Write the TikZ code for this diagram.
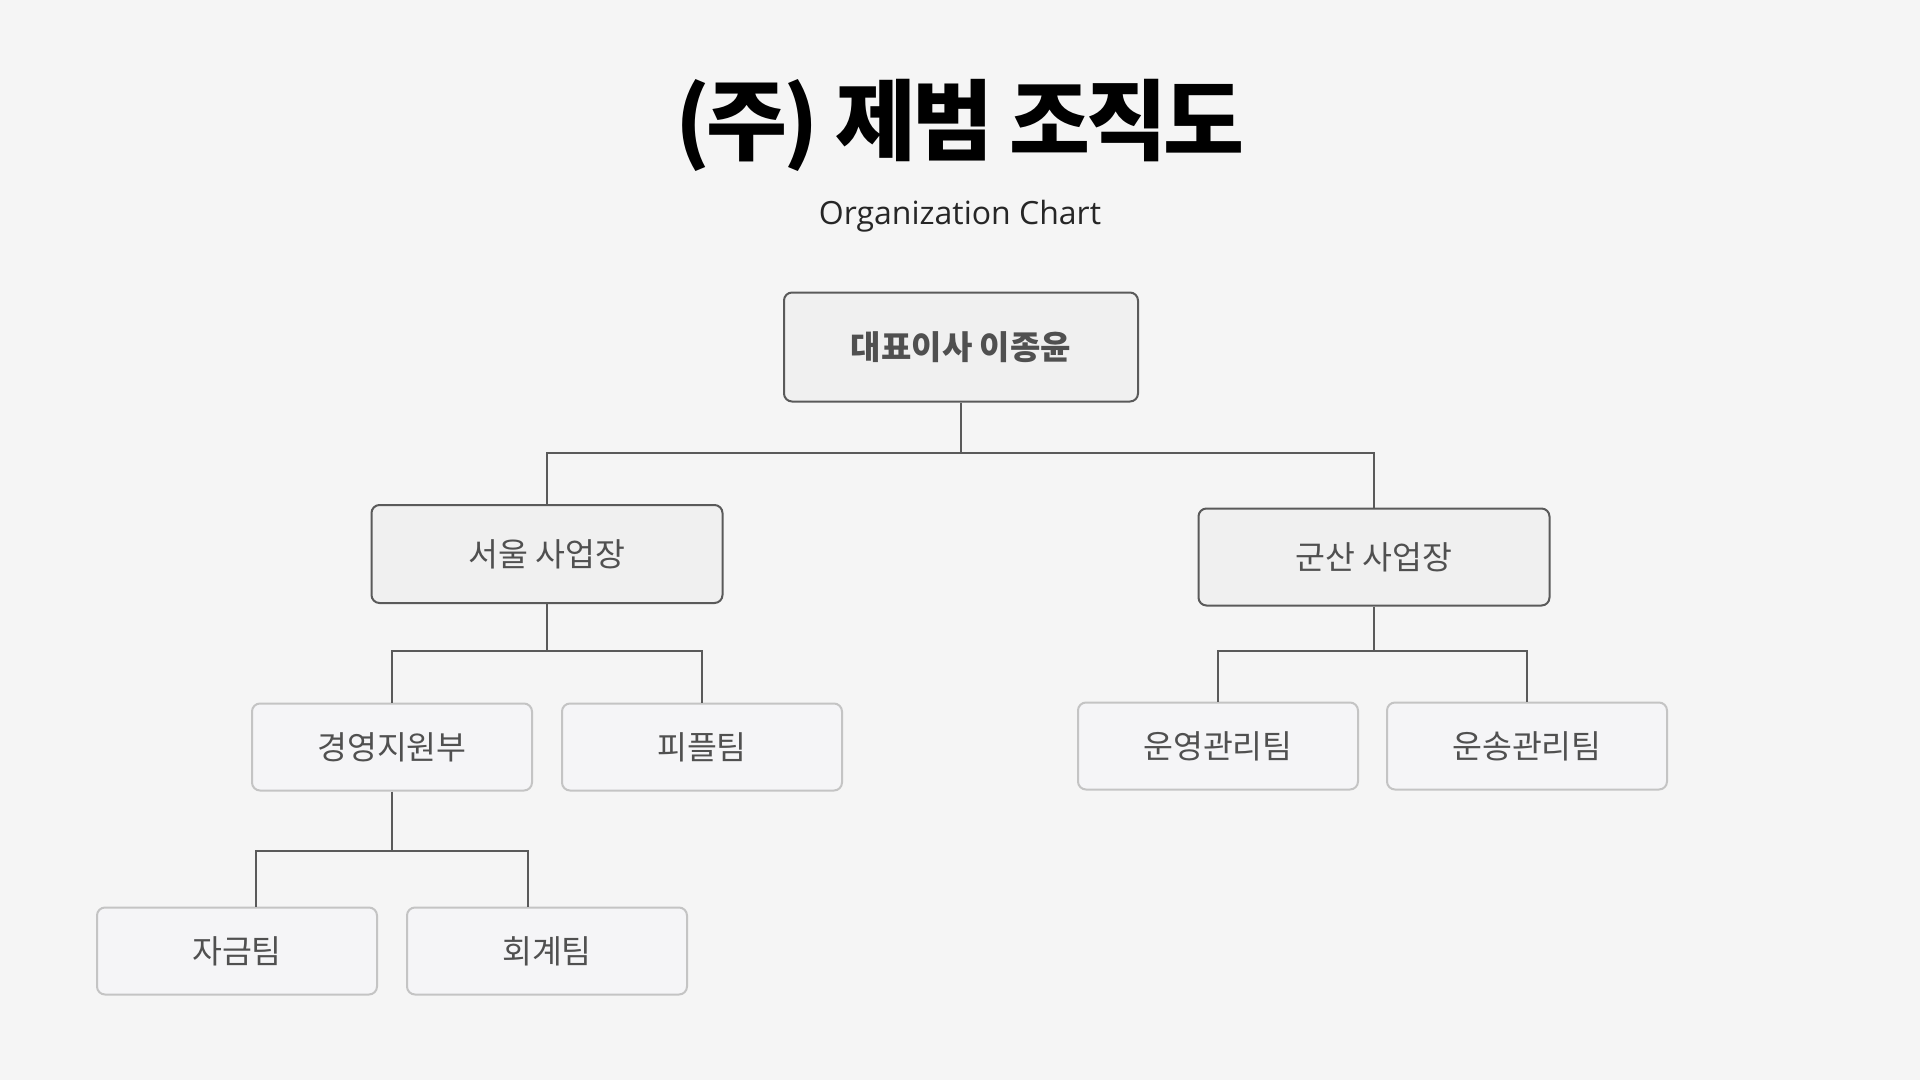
\documentclass[tikz,border=0pt]{standalone}
\usepackage{fontspec}
\newfontfamily\kr{Noto Sans CJK KR}
\newfontfamily\lat{Open Sans}
\definecolor{bg}{HTML}{F5F5F5}
\definecolor{topfill}{HTML}{F0F0F0}
\definecolor{topline}{HTML}{5A5A5A}
\definecolor{lowfill}{HTML}{F5F5F7}
\definecolor{lowline}{HTML}{C4C4C4}
\definecolor{txt}{HTML}{505050}
\definecolor{conn}{HTML}{5A5A5A}
\tikzset{
  headbox/.style={draw=topline, fill=topfill, line width=2pt, rounded corners=8pt, inner sep=0pt, text=txt, font=\kr\fontsize{32.5}{38}\selectfont},
  teambox/.style={draw=lowline, fill=lowfill, line width=2pt, rounded corners=8pt, inner sep=0pt, minimum width=280pt, minimum height=87pt, text=txt, font=\kr\fontsize{32.5}{38}\selectfont},
  link/.style={draw=conn, line width=2pt}
}
\begin{document}
\begin{tikzpicture}[x=1pt,y=-1pt]
\path[fill=bg, use as bounding box] (0,0) rectangle (1920,1080);
\node[anchor=base, font=\kr\bfseries\fontsize{88}{90}\selectfont\addfontfeatures{LetterSpace=-4.5}] (title) at (960,153) {(주) 제범 조직도};
\node[anchor=base, font=\lat\fontsize{32}{36}\selectfont, text=black!85] (subtitle) at (960,224) {Organization Chart};

\node[headbox, minimum width=354pt, minimum height=109pt, font=\kr\bfseries\fontsize{33}{38}\selectfont] (ceo) at (961,347) {\raisebox{-2.5pt}{대표이사 이종윤}};
\node[headbox, minimum width=351pt, minimum height=98pt] (seoul) at (547,554) {서울 사업장};
\node[headbox, minimum width=351pt, minimum height=97pt] (gunsan) at (1374,557) {군산 사업장};

\node[teambox] (gy) at (392,747) {경영지원부};
\node[teambox] (people) at (702,747) {피플팀};
\node[teambox] (unyeong) at (1218,746) {운영관리팀};
\node[teambox] (unsong) at (1527,746) {운송관리팀};
\node[teambox] (jagum) at (237,951) {자금팀};
\node[teambox] (hoegye) at (547,951) {회계팀};

\coordinate (b1) at (961,453);
\coordinate (b2) at (547,651);
\coordinate (b3) at (1374,651);
\coordinate (b4) at (392,851);

\draw[link] (ceo.south) -- (b1);
\draw[link] (seoul.north) |- (b1) -| (gunsan.north);
\draw[link] (seoul.south) -- (b2);
\draw[link] (gy.north) |- (b2) -| (people.north);
\draw[link] (gunsan.south) -- (b3);
\draw[link] (unyeong.north) |- (b3) -| (unsong.north);
\draw[link] (gy.south) -- (b4);
\draw[link] ([xshift=19pt]jagum.north) |- (b4) -| ([xshift=-19pt]hoegye.north);
\end{tikzpicture}
\end{document}
